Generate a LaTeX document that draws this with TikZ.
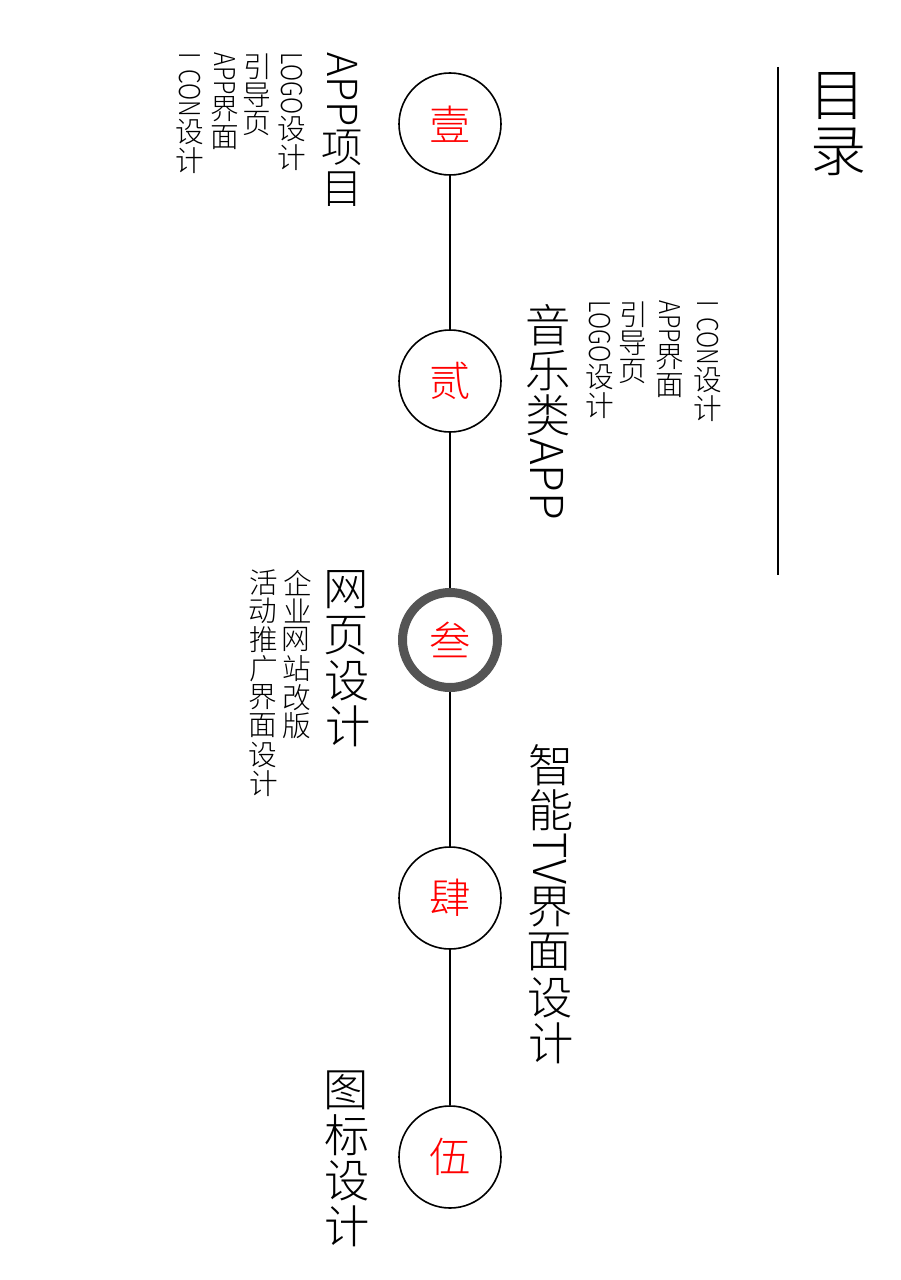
\documentclass[tikz,border=0pt]{standalone}
\usepackage{fontspec}
\setmainfont{Noto Sans CJK SC}[UprightFont=* Light]
\usepackage{graphicx}
\makeatletter
% vertical text: CJK upright, latin turned
\newcommand\latsc{1}
\newcommand\vt[1]{\@tfor\vt@c:=#1\do{\ifnum\expandafter`\vt@c>"2E7F \makebox[1em]{\rotatebox[origin=c]{90}{\vt@c}}\else\scalebox{\latsc}[1]{\vt@c}\fi}}
\makeatother
\tikzset{
  num/.style={circle, draw, line width=1.2pt, minimum size=76.5pt, inner sep=0pt, text=red, font=\fontsize{31}{31}\selectfont},
  cur/.style={num, draw=black!67, line width=6.75pt, minimum size=71.25pt},
  vtitle/.style={rotate=-90, anchor=west, inner sep=0pt, font=\fontsize{34}{34}\selectfont},
  vsub/.style={rotate=-90, anchor=west, inner sep=0pt, font=\fontsize{21.5}{21.5}\selectfont\def\latsc{.82}}
}
\begin{document}
\begin{tikzpicture}[x=0.75pt, y=-0.75pt]
    \useasboundingbox (0,0) rectangle (900,1280);
    \node[vtitle, font=\fontsize{42}{42}\selectfont] (mulu) at (838,68) {\vt{目录}};
    \coordinate (ltop) at (778,67); \coordinate (lbot) at (778,575);
    \draw[line width=1pt] (ltop) -- (lbot);
    \node[num] (n1) at (450,124) {壹};
    \node[num] (n2) at (450,381) {贰};
    \node[cur] (n3) at (450,640) {叁};
    \node[num] (n4) at (450,898) {肆};
    \node[num] (n5) at (450,1157) {伍};
    \draw[line width=1.2pt] (n1) -- (n2) (n2) -- (n3) (n3) -- (n4) (n4) -- (n5);
    % 1
    \node[vtitle, font=\fontsize{31}{31}\selectfont] (t1) at (342,52) {\vt{APP项目}};
    \node[vsub] (s1a) at (292,52) {\vt{LOGO设计}};
    \node[vsub] (s1b) at (257,52) {\vt{引导页}};
    \node[vsub] (s1c) at (225,52) {\vt{APP界面}};
    \node[vsub] (s1d) at (190,52) {\vt{I\ \ CON设计}};
    % 2
    \node[vtitle] (t2) at (548,302) {\vt{音乐类APP}};
    \node[vsub] (s2a) at (600,300) {\vt{LOGO设计}};
    \node[vsub] (s2b) at (633,300) {\vt{引导页}};
    \node[vsub] (s2c) at (670,300) {\vt{APP界面}};
    \node[vsub] (s2d) at (708,300) {\vt{I\ \ CON设计}};
    % 3
    \node[vtitle] (t3) at (347,567) {\vt{网页设计}};
    \node[vsub] (s3a) at (297,568) {\vt{企业网站改版}};
    \node[vsub] (s3b) at (263,568) {\vt{活动推广界面设计}};
    % 4
    \node[vtitle] (t4) at (550,742) {\vt{智能TV界面设计}};
    % 5
    \node[vtitle] (t5) at (347,1067) {\vt{图标设计}};
\end{tikzpicture}
\end{document}
